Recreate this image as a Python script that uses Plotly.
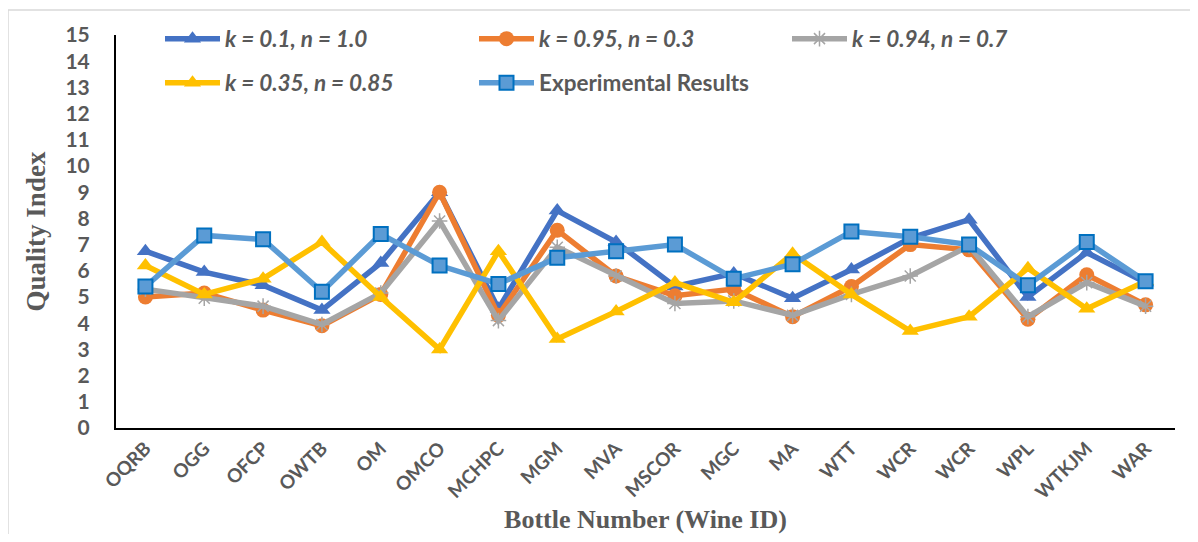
import plotly.graph_objects as go

categories = ["OQRB", "OGG", "OFCP", "OWTB", "OM", "OMCO", "MCHPC", "MGM", "MVA",
              "MSCOR", "MGC", "MA", "WTT", "WCR", "WCR", "WPL", "WTKJM", "WAR"]

k01_n10 = [6.75, 5.95, 5.45, 4.5, 6.3, 9.0, 4.55, 8.3, 7.1, 5.4, 5.9, 4.95, 6.05, 7.25, 7.95, 5.0, 6.7, 5.55]
k095_n03 = [5.0, 5.15, 4.5, 3.9, 5.1, 9.0, 4.3, 7.55, 5.8, 5.05, 5.3, 4.25, 5.4, 7.0, 6.8, 4.15, 5.85, 4.7]
k094_n07 = [5.3, 4.95, 4.65, 3.95, 5.15, 7.9, 4.1, 6.9, 5.8, 4.75, 4.85, 4.3, 5.1, 5.8, 6.95, 4.25, 5.55, 4.65]
k035_n085 = [6.2, 5.1, 5.7, 7.1, 5.0, 3.0, 6.75, 3.4, 4.45, 5.55, 4.8, 6.65, 5.1, 3.7, 4.25, 6.1, 4.55, 5.6]
experimental = [5.4, 7.35, 7.2, 5.2, 7.4, 6.2, 5.5, 6.5, 6.75, 7.0, 5.7, 6.25, 7.5, 7.3, 7.0, 5.45, 7.1, 5.6]

y_ticks = list(range(0, 16))

x = list(range(len(categories)))
LW = 5.5

fig = go.Figure()
fig.add_trace(go.Scatter(x=x, y=k01_n10, mode="lines+markers", name="<b><i>k = 0.1, n = 1.0</i></b>",
                         line=dict(color="#4472C4", width=LW),
                         marker=dict(symbol="triangle-up", size=15, color="#4472C4"),
                         legend="legend"))
fig.add_trace(go.Scatter(x=x, y=k095_n03, mode="lines+markers", name="<b><i>k = 0.95, n = 0.3</i></b>",
                         line=dict(color="#ED7D31", width=LW),
                         marker=dict(symbol="circle", size=15, color="#ED7D31"),
                         legend="legend2"))
fig.add_trace(go.Scatter(x=x, y=k094_n07, mode="lines+markers", name="<b><i>k = 0.94, n = 0.7</i></b>",
                         line=dict(color="#A5A5A5", width=LW),
                         marker=dict(symbol="asterisk-open", size=13, color="#A5A5A5",
                                     line=dict(color="#A5A5A5", width=1.5)),
                         legend="legend3"))
fig.add_trace(go.Scatter(x=x, y=k035_n085, mode="lines+markers", name="<b><i>k = 0.35, n = 0.85</i></b>",
                         line=dict(color="#FFC000", width=LW),
                         marker=dict(symbol="triangle-up", size=15, color="#FFC000"),
                         legend="legend4"))
fig.add_trace(go.Scatter(x=x, y=experimental, mode="lines+markers", name="<b>Experimental Results</b>",
                         line=dict(color="#5B9BD5", width=LW),
                         marker=dict(symbol="square", size=14, color="#5B9BD5",
                                     line=dict(color="#0070C0", width=2)),
                         legend="legend5"))

# page has an 8px body margin; figure pixel = page pixel - 8
OFF = 8
W, H = 1182, 526
L, T = 116 - OFF, 35 - OFF
R = W - (1175 - OFF)
B = H - (428 - OFF)
pw, ph = W - L - R, H - T - B

def px_x(p):
    return (p - OFF - L) / pw

def px_y(p):
    return (H - B - (p - OFF)) / ph

def leg(xp, yp):
    return dict(orientation="h", itemwidth=55, xanchor="left", yanchor="middle",
                x=px_x(xp), y=px_y(yp),
                font=dict(family="Lato", size=22.5, color="#595959"),
                bgcolor="rgba(0,0,0,0)", itemclick=False, itemdoubleclick=False)

fig.update_layout(
    width=W, height=H,
    margin=dict(l=L, r=R, t=T, b=B, autoexpand=False),
    paper_bgcolor="white", plot_bgcolor="white",
    showlegend=True,
    legend=leg(160, 39),
    legend2=leg(474, 39),
    legend3=leg(787, 39),
    legend4=leg(160, 83),
    legend5=leg(474, 83),
    xaxis=dict(
        range=[-0.5, len(categories) - 0.5],
        tickmode="array", tickvals=x, ticktext=categories,
        tickangle=-45, automargin=False,
        tickfont=dict(family="Lato", size=19, color="#595959", weight="bold"),
        showgrid=False, zeroline=False,
        showline=True, linecolor="black", linewidth=2,
        ticks="",
        title=dict(text="<b>Bottle Number (Wine ID)</b>",
                   font=dict(family="Liberation Serif", size=26, color="#595959"),
                   standoff=29),
    ),
    yaxis=dict(
        range=[0, 15], automargin=False,
        tickmode="array", tickvals=y_ticks,
        tickfont=dict(family="Lato", size=21, color="#595959", weight="bold"),
        showgrid=False, zeroline=False,
        showline=True, linecolor="black", linewidth=2,
        ticks="", ticklabelstandoff=20,
        title=dict(text="<b>Quality Index</b>",
                   font=dict(family="Liberation Serif", size=27, color="#595959"),
                   standoff=12),
    ),
    shapes=[dict(type="rect", xref="paper", yref="paper",
                 x0=px_x(8), x1=px_x(1197), y0=px_y(545), y1=px_y(10),
                 line=dict(color="#D9D9D9", width=1.5), fillcolor="rgba(0,0,0,0)",
                 layer="below")],
)

fig.write_html("out.html")
